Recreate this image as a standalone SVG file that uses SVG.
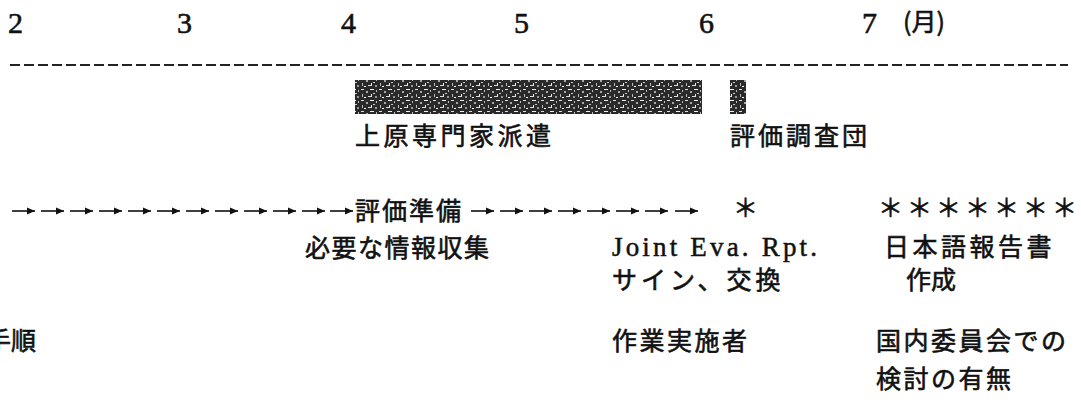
<svg xmlns="http://www.w3.org/2000/svg" width="1081" height="412" viewBox="0 0 1081 412">
<style>
.cjk{font-family:"Noto Sans CJK JP","Noto Sans CJK SC",sans-serif;fill:#111;font-size:25px;stroke:#111;stroke-width:0.6}
.num{font-family:"Liberation Serif",serif;fill:#111;font-size:30px;stroke:#111;stroke-width:0.6}
.arr{stroke:#111;stroke-width:1.6;fill:none}
</style>
<defs>
<marker id="ah" markerUnits="userSpaceOnUse" markerWidth="9" markerHeight="8" refX="8" refY="4" orient="auto">
<path d="M0,0.5 L8,4 L0,7.5 z" fill="#111"/>
</marker>
<pattern id="noise" width="18" height="11" patternUnits="userSpaceOnUse">
<rect width="18" height="11" fill="#2a2a2a"/>
<rect x="1" y="1" width="3" height="1" fill="#ddd"/>
<rect x="6" y="3" width="2" height="2" fill="#aaa"/>
<rect x="10" y="1" width="4" height="1" fill="#eee"/>
<rect x="13" y="5" width="2" height="1" fill="#ccc"/>
<rect x="2" y="6" width="1" height="3" fill="#bbb"/>
<rect x="8" y="8" width="4" height="1" fill="#ddd"/>
<rect x="15" y="8" width="2" height="2" fill="#999"/>
<rect x="4" y="9" width="2" height="1" fill="#fff"/>
<rect x="11" y="6" width="1" height="2" fill="#eee"/>
<rect x="16" y="2" width="1" height="2" fill="#bbb"/>
</pattern>
</defs>
<rect width="1081" height="412" fill="#fff"/>

<g id="months">
<text class="num" x="8" y="33">2</text>
<text class="num" x="177" y="33">3</text>
<text class="num" x="341" y="33">4</text>
<text class="num" x="514" y="33">5</text>
<text class="num" x="699" y="33">6</text>
<text class="num" x="862" y="33">7</text>
<text class="cjk" x="903" y="31" font-size="25">(月)</text>
</g>
<line id="axis" x1="10" y1="65" x2="1068" y2="65" stroke="#222" stroke-width="2.2" stroke-dasharray="10 4"/>

<g id="bar-expert">
<rect x="355" y="80" width="347" height="34" fill="url(#noise)"/>
<text class="cjk" x="355" y="145" font-size="26" letter-spacing="3.5">上原専門家派遣</text>
</g>
<g id="bar-mission">
<rect x="730" y="80" width="16" height="34" fill="url(#noise)"/>
<text class="cjk" x="730" y="145" font-size="26" letter-spacing="3">評価調査団</text>
</g>

<g id="connectors">
<line class="arr" x1="12" y1="211" x2="35" y2="211" marker-end="url(#ah)"/>
<line class="arr" x1="41" y1="211" x2="64" y2="211" marker-end="url(#ah)"/>
<line class="arr" x1="70" y1="211" x2="93" y2="211" marker-end="url(#ah)"/>
<line class="arr" x1="99" y1="211" x2="122" y2="211" marker-end="url(#ah)"/>
<line class="arr" x1="128" y1="211" x2="151" y2="211" marker-end="url(#ah)"/>
<line class="arr" x1="157" y1="211" x2="180" y2="211" marker-end="url(#ah)"/>
<line class="arr" x1="186" y1="211" x2="209" y2="211" marker-end="url(#ah)"/>
<line class="arr" x1="215" y1="211" x2="238" y2="211" marker-end="url(#ah)"/>
<line class="arr" x1="244" y1="211" x2="267" y2="211" marker-end="url(#ah)"/>
<line class="arr" x1="273" y1="211" x2="296" y2="211" marker-end="url(#ah)"/>
<line class="arr" x1="302" y1="211" x2="325" y2="211" marker-end="url(#ah)"/>
<line class="arr" x1="330" y1="211" x2="353" y2="211" marker-end="url(#ah)"/>
<line class="arr" x1="471" y1="211" x2="494" y2="211" marker-end="url(#ah)"/>
<line class="arr" x1="500" y1="211" x2="523" y2="211" marker-end="url(#ah)"/>
<line class="arr" x1="529" y1="211" x2="552" y2="211" marker-end="url(#ah)"/>
<line class="arr" x1="558" y1="211" x2="581" y2="211" marker-end="url(#ah)"/>
<line class="arr" x1="587" y1="211" x2="610" y2="211" marker-end="url(#ah)"/>
<line class="arr" x1="616" y1="211" x2="639" y2="211" marker-end="url(#ah)"/>
<line class="arr" x1="645" y1="211" x2="668" y2="211" marker-end="url(#ah)"/>
<line class="arr" x1="675" y1="211" x2="698" y2="211" marker-end="url(#ah)"/>
</g>

<g id="prep">
<text class="cjk" x="355" y="220" font-size="25" letter-spacing="2">評価準備</text>
<text class="cjk" x="305" y="257" font-size="25" letter-spacing="1.5">必要な情報収集</text>
</g>
<g id="joint">
<text class="cjk" x="733" y="217" font-size="24">＊</text>
<text x="612" y="256" font-family="Liberation Serif,serif" font-size="27" fill="#111" stroke="#111" stroke-width="0.5" textLength="205" lengthAdjust="spacing">Joint Eva. Rpt.</text>
<text class="cjk" x="612" y="289" font-size="25" letter-spacing="4">サイン、交換</text>
</g>
<g id="jp-report">
<text class="cjk" x="878" y="217" font-size="24" letter-spacing="4">＊＊＊＊＊＊＊</text>
<text class="cjk" x="884" y="256" font-size="25" letter-spacing="3.5">日本語報告書</text>
<text class="cjk" x="906" y="289" font-size="25">作成</text>
</g>
<g id="row-labels">
<text class="cjk" x="-14" y="350" font-size="26">手順</text>
<text class="cjk" x="612" y="350" font-size="26" letter-spacing="2.5">作業実施者</text>
<text class="cjk" x="876" y="350" font-size="26" letter-spacing="2.5">国内委員会での</text>
<text class="cjk" x="876" y="388" font-size="26" letter-spacing="2.5">検討の有無</text>
</g>
</svg>
